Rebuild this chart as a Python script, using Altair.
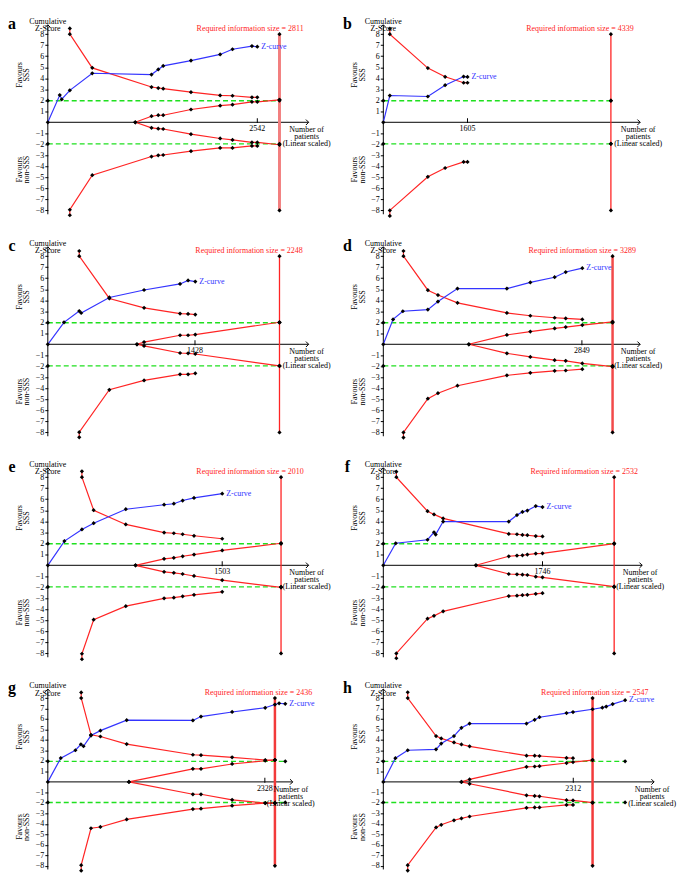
import altair as alt
import pandas as pd

SERIF = "Liberation Serif"
RED = "#ff2424"
BLUE = "#3434ff"
GREEN = "#1fe01f"

# ---------------- data (patients, cumulative Z) ----------------
# panel a
a_ris, a_tick, a_green_end = 2811, 2542, 2811
a_z_n = [0, 145, 169, 267, 539, 1258, 1340, 1400, 1737, 2091, 2241, 2477, 2542]
a_z_v = [0, 2.47, 2.09, 2.9, 4.45, 4.33, 4.8, 5.12, 5.6, 6.16, 6.63, 6.92, 6.86]
a_b_n = [267, 267, 539, 1258, 1340, 1400, 1737, 2091, 2241, 2477, 2542]
a_b_up = [8.52, 8.0, 4.94, 3.2, 3.11, 3.05, 2.73, 2.44, 2.41, 2.27, 2.27]
a_b_lo = [-8.44, -7.94, -4.8, -3.11, -3.0, -2.97, -2.62, -2.33, -2.33, -2.15, -2.15]
a_f_n = [1061, 1258, 1340, 1400, 1737, 2091, 2241, 2477, 2542, 2811]
a_f_up = [0, 0.55, 0.64, 0.64, 1.16, 1.51, 1.6, 1.86, 1.86, 2.04]
a_f_lo = [0, -0.5, -0.58, -0.61, -1.08, -1.47, -1.6, -1.83, -1.83, -2.04]

# panel b
b_ris, b_tick, b_green_end = 4339, 1605, 4339
b_z_n = [0, 124, 849, 1178, 1531, 1605]
b_z_v = [0, 2.43, 2.34, 3.37, 4.15, 4.12]
b_b_n = [124, 124, 849, 1178, 1531, 1605]
b_b_up = [8.5, 8.0, 4.92, 4.13, 3.59, 3.59]
b_b_lo = [-8.5, -8.0, -4.95, -4.15, -3.6, -3.6]
b_f_n, b_f_up, b_f_lo = [], [], []

# panel c
c_ris, c_tick, c_green_end = 2248, 1428, 2248
c_z_n = [0, 157, 305, 324, 597, 934, 1283, 1361, 1431]
c_z_v = [0, 1.99, 3.02, 2.84, 4.25, 4.93, 5.48, 5.8, 5.69]
c_b_n = [305, 305, 597, 934, 1283, 1361, 1431]
c_b_up = [8.47, 8.0, 4.16, 3.31, 2.79, 2.76, 2.7]
c_b_lo = [-8.45, -7.98, -4.13, -3.28, -2.73, -2.73, -2.64]
c_f_n = [865, 934, 1283, 1361, 1431, 2248]
c_f_up = [0, 0.2, 0.82, 0.82, 0.88, 2.0]
c_f_lo = [0, -0.15, -0.79, -0.82, -0.88, -1.96]

# panel d
d_ris, d_tick, d_green_end = 3289, 2849, 3289
d_z_n = [0, 140, 280, 639, 784, 1064, 1773, 2109, 2458, 2617, 2855]
d_z_v = [0, 2.26, 3.0, 3.15, 3.88, 5.06, 5.06, 5.62, 6.09, 6.56, 6.91]
d_b_n = [289, 289, 639, 784, 1064, 1773, 2109, 2458, 2617, 2855]
d_b_up = [8.47, 8.0, 4.91, 4.47, 3.76, 2.85, 2.59, 2.41, 2.35, 2.26]
d_b_lo = [-8.47, -8.0, -4.94, -4.44, -3.76, -2.82, -2.59, -2.41, -2.38, -2.26]
d_f_n = [1227, 1773, 2109, 2458, 2617, 2855, 3289]
d_f_up = [0, 0.85, 1.15, 1.44, 1.56, 1.74, 2.03]
d_f_lo = [0, -0.82, -1.15, -1.44, -1.5, -1.74, -2.03]

# panel e
e_ris, e_tick, e_green_end = 2010, 1503, 2010
e_z_n = [0, 143, 294, 395, 672, 1002, 1086, 1162, 1260, 1503]
e_z_v = [0, 2.2, 3.26, 3.82, 5.09, 5.5, 5.59, 5.88, 6.12, 6.5]
e_b_n = [294, 294, 395, 672, 1002, 1086, 1162, 1260, 1503]
e_b_up = [8.53, 8.0, 5.0, 3.71, 2.97, 2.91, 2.82, 2.68, 2.41]
e_b_lo = [-8.53, -8.03, -4.94, -3.71, -3.0, -2.94, -2.82, -2.68, -2.41]
e_f_n = [756, 1002, 1086, 1162, 1260, 1503, 2010]
e_f_up = [0, 0.59, 0.68, 0.82, 0.97, 1.35, 2.0]
e_f_lo = [0, -0.59, -0.68, -0.79, -0.97, -1.35, -2.0]

# panel f
f_ris, f_tick, f_green_end = 2532, 1746, 2532
f_z_n = [0, 136, 485, 556, 574, 656, 1376, 1466, 1526, 1580, 1672, 1746]
f_z_v = [0, 2.0, 2.32, 3.0, 2.79, 3.97, 3.97, 4.56, 4.85, 4.97, 5.38, 5.29]
f_b_n = [143, 143, 485, 556, 656, 1376, 1466, 1526, 1580, 1672, 1746]
f_b_up = [8.5, 8.0, 4.91, 4.62, 4.26, 2.85, 2.82, 2.76, 2.73, 2.65, 2.62]
f_b_lo = [-8.44, -8.0, -4.85, -4.59, -4.18, -2.79, -2.76, -2.71, -2.68, -2.59, -2.53]
f_f_n = [1016, 1376, 1466, 1526, 1580, 1672, 1746, 2532]
f_f_up = [0, 0.82, 0.88, 0.91, 0.97, 1.06, 1.09, 1.97]
f_f_lo = [0, -0.79, -0.82, -0.85, -0.88, -1.03, -1.09, -1.94]

# panel g
g_ris, g_tick, g_green_end = 2436, 2328, 2547
g_z_n = [0, 139, 296, 355, 383, 463, 564, 846, 1556, 1643, 1977, 2332, 2436, 2481, 2547]
g_z_v = [0, 2.27, 3.02, 3.58, 3.4, 4.42, 4.89, 5.89, 5.86, 6.23, 6.67, 7.07, 7.38, 7.5, 7.45]
g_b_n = [358, 358, 463, 564, 846, 1556, 1643, 1977, 2332, 2436]
g_b_up = [8.53, 8.0, 4.49, 4.33, 3.61, 2.59, 2.55, 2.34, 2.09, 2.09]
g_b_lo = [-8.47, -7.94, -4.42, -4.3, -3.58, -2.59, -2.55, -2.27, -2.02, -2.02]
g_f_n = [870, 1556, 1643, 1977, 2332, 2436]
g_f_up = [0, 1.25, 1.25, 1.71, 2.02, 2.09]
g_f_lo = [0, -1.18, -1.18, -1.71, -2.02, -2.02]

# panel h
h_ris, h_tick, h_green_end = 2547, 2312, 2943
h_z_n = [0, 147, 297, 642, 705, 860, 951, 1050, 1743, 1842, 1901, 2230, 2309, 2547, 2666, 2713, 2792, 2943]
h_z_v = [0, 2.26, 3.02, 3.11, 3.66, 4.37, 5.16, 5.56, 5.56, 5.92, 6.17, 6.56, 6.66, 6.93, 7.08, 7.18, 7.42, 7.79]
h_b_n = [297, 297, 642, 705, 860, 951, 1050, 1743, 1842, 1901, 2230, 2309]
h_b_up = [8.55, 8.0, 4.37, 4.15, 3.76, 3.57, 3.39, 2.5, 2.5, 2.47, 2.29, 2.26]
h_b_lo = [-8.46, -7.94, -4.34, -4.09, -3.66, -3.48, -3.3, -2.47, -2.44, -2.44, -2.2, -2.2]
h_f_n = [951, 1050, 1743, 1842, 1901, 2230, 2309, 2547]
h_f_up = [0, 0.24, 1.44, 1.47, 1.5, 1.8, 1.89, 2.08]
h_f_lo = [0, -0.18, -1.28, -1.34, -1.37, -1.74, -1.77, -1.98]

Z_CRIT = 1.96
Z_TICKS = [-8, -7, -6, -5, -4, -3, -2, -1, 1, 2, 3, 4, 5, 6, 7, 8]

PANELS = {
    "a": (a_ris, a_tick, a_green_end, a_z_n, a_z_v, a_b_n, a_b_up, a_b_lo, a_f_n, a_f_up, a_f_lo),
    "b": (b_ris, b_tick, b_green_end, b_z_n, b_z_v, b_b_n, b_b_up, b_b_lo, b_f_n, b_f_up, b_f_lo),
    "c": (c_ris, c_tick, c_green_end, c_z_n, c_z_v, c_b_n, c_b_up, c_b_lo, c_f_n, c_f_up, c_f_lo),
    "d": (d_ris, d_tick, d_green_end, d_z_n, d_z_v, d_b_n, d_b_up, d_b_lo, d_f_n, d_f_up, d_f_lo),
    "e": (e_ris, e_tick, e_green_end, e_z_n, e_z_v, e_b_n, e_b_up, e_b_lo, e_f_n, e_f_up, e_f_lo),
    "f": (f_ris, f_tick, f_green_end, f_z_n, f_z_v, f_b_n, f_b_up, f_b_lo, f_f_n, f_f_up, f_f_lo),
    "g": (g_ris, g_tick, g_green_end, g_z_n, g_z_v, g_b_n, g_b_up, g_b_lo, g_f_n, g_f_up, g_f_lo),
    "h": (h_ris, h_tick, h_green_end, h_z_n, h_z_v, h_b_n, h_b_up, h_b_lo, h_f_n, h_f_up, h_f_lo),
}

# ---------------- layout / style (per panel) ----------------
LAYOUT = {
    "a": dict(w=262, h=208, xmax=3165, lab=3105, rw=3.0, rc="#f27f7f"),
    "b": dict(w=258, h=208, xmax=4897, lab=4773, rw=1.3, rc=RED),
    "c": dict(w=262, h=208, xmax=2531, lab=2474, rw=1.3, rc=RED),
    "d": dict(w=258, h=208, xmax=3685, lab=3625, rw=2.5, rc="#f24a4a"),
    "e": dict(w=262, h=208, xmax=2248, lab=2206, rw=1.3, rc=RED),
    "f": dict(w=260, h=208, xmax=2839, lab=2792, rw=1.3, rc=RED),
    "g": dict(w=246, h=198, xmax=2627, lab=2836, rw=2.5, rc="#f23a3a"),
    "h": dict(w=272, h=198, xmax=3296, lab=3228, rw=2.5, rc="#f23a3a"),
}
YDOM = [-8.6, 10.2]
FS = 8

YAXIS = alt.Axis(values=Z_TICKS, domain=False, grid=False, ticks=True, tickSize=3,
                 tickColor="black", tickWidth=1, labelFont=SERIF, labelFontSize=FS,
                 labelColor="black", labelPadding=1, title=None, labelOverlap=False)


def series_df(groups):
    rows = []
    for g, (ns, vs) in groups.items():
        for i, (n, v) in enumerate(zip(ns, vs)):
            rows.append({"g": g, "o": i, "x": n, "y": v})
    return pd.DataFrame(rows, columns=["g", "o", "x", "y"])


def panel(letter):
    ris, tick, gend, z_n, z_v, b_n, b_up, b_lo, f_n, f_up, f_lo = PANELS[letter]
    L = LAYOUT[letter]
    xs = alt.Scale(domain=[0, L["xmax"]], nice=False, zero=False)
    ys = alt.Scale(domain=YDOM, nice=False, zero=False)

    def enc(**extra):
        return dict(x=alt.X("x:Q", scale=xs, axis=None),
                    y=alt.Y("y:Q", scale=ys, axis=YAXIS), **extra)

    def line(df, **kw):
        return alt.Chart(df).mark_line(**kw).encode(**enc(detail="g:N", order="o:Q"))

    def text(df, **kw):
        base = dict(font=SERIF, fontSize=FS, color="black", lineBreak="\n")
        base.update(kw)
        return alt.Chart(df).mark_text(**base).encode(**enc(text="t:N"))

    axes_df = series_df({"ya": ([0, 0], [-8.35, 8.85]), "xa": ([0, L["xmax"]], [0, 0])})
    green_df = series_df({"u": ([0, gend], [Z_CRIT, Z_CRIT]), "l": ([0, gend], [-Z_CRIT, -Z_CRIT])})
    ris_df = series_df({"r": ([ris, ris], [-8, 8])})
    red_df = series_df({"bu": (b_n, b_up), "bl": (b_n, b_lo), "fu": (f_n, f_up), "fl": (f_n, f_lo)})
    blue_df = series_df({"z": (z_n, z_v)})

    ris_up = f_up[-1] if f_up else Z_CRIT
    ris_lo = f_lo[-1] if f_lo else -Z_CRIT
    mark_df = pd.concat([
        red_df, blue_df,
        series_df({"rm": ([ris] * 4, [8, ris_up, ris_lo, -8]),
                   "gm": ([0, 0, gend, gend], [Z_CRIT, -Z_CRIT, Z_CRIT, -Z_CRIT])}),
    ], ignore_index=True)

    layers = [
        line(green_df, color=GREEN, strokeWidth=1.4, strokeDash=[5, 3]),
        line(axes_df, color="black", strokeWidth=1),
        alt.Chart(pd.DataFrame({"x": [0], "y": [8.85]})).mark_point(
            shape="M-1,1L0,0L1,1", filled=False, size=30, color="black", strokeWidth=1, opacity=1
        ).encode(**enc()),
        alt.Chart(pd.DataFrame({"x": [L["xmax"]], "y": [0]})).mark_point(
            shape="M-1,-1L0,0L-1,1", filled=False, size=30, color="black", strokeWidth=1, opacity=1
        ).encode(**enc()),
        alt.Chart(pd.DataFrame({"x": [tick], "y": [0.15]})).mark_tick(
            orient="vertical", size=5, thickness=1, color="black", opacity=1
        ).encode(**enc()),
        line(ris_df, color=L["rc"], strokeWidth=L["rw"]),
        line(red_df, color=RED, strokeWidth=1.2),
        line(blue_df, color=BLUE, strokeWidth=1.2),
        alt.Chart(mark_df).mark_point(shape="diamond", filled=True, size=18, color="black",
                                      opacity=1).encode(**enc()),
        # texts
        text(pd.DataFrame({"x": [0], "y": [8.95], "t": [letter]}),
             fontSize=16, fontWeight="bold", dx=-36, align="center", baseline="middle"),
        text(pd.DataFrame({"x": [0], "y": [8.85], "t": ["Cumulative\nZ-Score"]}),
             align="center", baseline="bottom", lineHeight=7.5, dy=1),
        text(pd.DataFrame({"x": [0, 0], "y": [4.3, -4.3], "t": ["Favours\nSSS", "Favours\nnon-SSS"]}),
             angle=270, dy=-28, align="center", baseline="middle", lineHeight=7.5),
        text(pd.DataFrame({"x": [L["lab"]], "y": [8.45], "t": [f"Required information size = {ris}"]}),
             color=RED, align="right", baseline="middle"),
        text(pd.DataFrame({"x": [z_n[-1]], "y": [z_v[-1]], "t": ["Z-curve"]}),
             color=BLUE, align="left", baseline="middle", dx=4),
        text(pd.DataFrame({"x": [L["xmax"]], "y": [0], "t": ["Number of\npatients\n(Linear scaled)"]}),
             align="center", baseline="top", dy=4, dx=-2, lineHeight=7),
        text(pd.DataFrame({"x": [tick], "y": [0], "t": [str(tick)]}),
             align="center", baseline="top", dy=3),
    ]
    return alt.layer(*layers).properties(width=L["w"], height=L["h"])


chart = alt.concat(
    *[panel(k) for k in "abcdefgh"],
    columns=2, spacing={"row": 13, "column": 11}, align="each",
).properties(padding=0).configure_view(stroke=None)

chart.save("out.html", embed_options={"renderer": "svg", "actions": False})
